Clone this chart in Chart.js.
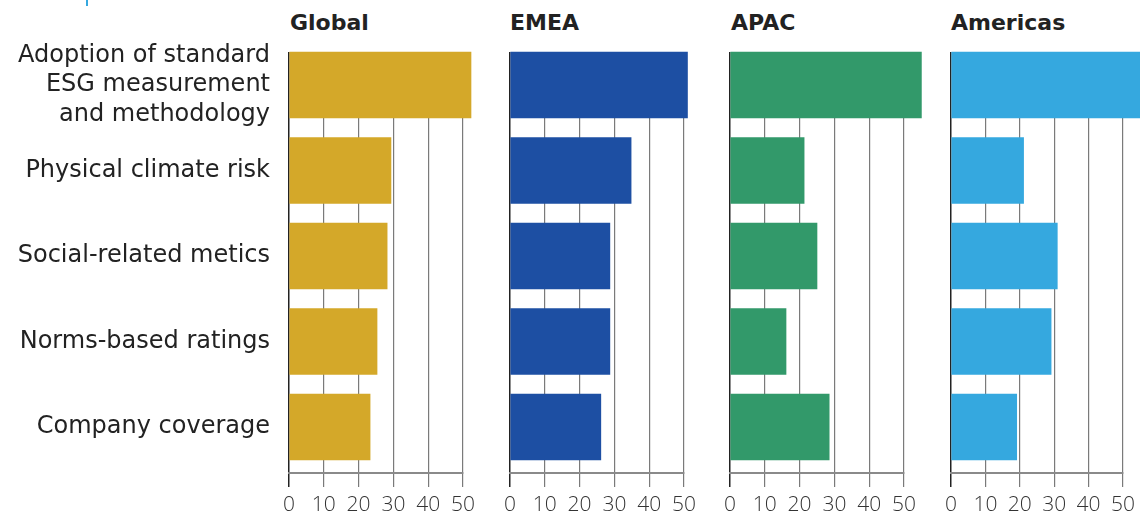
<!DOCTYPE html>
<html>
<head>
<meta charset="utf-8">
<script src="https://cdn.jsdelivr.net/npm/chart.js@4"></script>
<style>
  body { margin: 0; background: #fff; }
  #wrap { position: relative; width: 1140px; height: 514px; overflow: hidden; font-family: "DejaVu Sans", sans-serif; }
  .panel { position: absolute; top: 0; height: 514px; }
  .title { position: absolute; top: 10px; font-size: 22px; font-weight: 700; color: #222; }
  .mark { position: absolute; left: 86px; top: 0; width: 2px; height: 6px; background: #35a8df; }
</style>
</head>
<body>
<div id="wrap">
  <div class="mark"></div>
  <div class="title" style="left:290px">Global</div>
  <div class="title" style="left:510px">EMEA</div>
  <div class="title" style="left:731px">APAC</div>
  <div class="title" style="left:951px">Americas</div>
  <div class="panel" style="left:0;width:485px"><canvas id="c-global"></canvas></div>
  <div class="panel" style="left:499px;width:210px"><canvas id="c-emea"></canvas></div>
  <div class="panel" style="left:719px;width:210px"><canvas id="c-apac"></canvas></div>
  <div class="panel" style="left:940px;width:200px"><canvas id="c-americas"></canvas></div>
</div>
<script>
// Categories (top to bottom)
const categories = [
    ['Adoption of standard', 'ESG measurement', 'and methodology'],
    'Physical climate risk',
    'Social-related metics',
    'Norms-based ratings',
    'Company coverage'
];
const xTicks = [0, 10, 20, 30, 40, 50];

// Values per region, same order as categories
const globalValues = [52.3, 29.3, 28.2, 25.3, 23.3];
const emeaValues = [51.0, 34.8, 28.7, 28.7, 26.1];
const apacValues = [55.0, 21.3, 25.0, 16.1, 28.5];
const americasValues = [56.0, 21.1, 30.9, 29.1, 19.1];

function makePanel(canvas, values, color, showLabels, pad) {
    new Chart(canvas, {
        type: 'bar',
        data: {
            datasets: [{
                data: values.map(function(v, i) { return { x: v, y: i }; }),
                backgroundColor: color,
                barThickness: 66,
                clip: false
            }]
        },
        options: {
            indexAxis: 'y',
            responsive: true,
            maintainAspectRatio: false,
            animation: false,
            layout: { padding: { top: 52, left: pad.left, right: pad.right, bottom: 0 } },
            plugins: { legend: { display: false }, tooltip: { enabled: false } },
            scales: {
                x: {
                    type: 'linear',
                    min: 0,
                    max: 50,
                    afterBuildTicks: function(scale) {
                        scale.ticks = xTicks.map(function(v) { return { value: v }; });
                    },
                    afterFit: function(scale) { scale.height = 41; },
                    grid: {
                        color: function(ctx) { return ctx.tick && ctx.tick.value === 0 ? '#222' : '#7a7a7a'; },
                        lineWidth: function(ctx) { return ctx.tick && ctx.tick.value === 0 ? 1.5 : 1.2; },
                        tickLength: 14
                    },
                    border: { display: true, color: '#8a8a8a', width: 2 },
                    ticks: {
                        autoSkip: false,
                        maxRotation: 0,
                        padding: 5,
                        color: '#333',
                        font: { family: 'Open Sans', size: 21, weight: '300' }
                    }
                },
                y: {
                    type: 'linear',
                    reverse: true,
                    offset: false,
                    min: -0.386,
                    max: 4.538,
                    display: showLabels,
                    afterFit: function(scale) {
                        scale.paddingTop = 0;
                        scale.paddingBottom = 0;
                        if (showLabels) scale.width = 289;
                    },
                    grid: { display: false, offset: false },
                    border: { display: false },
                    ticks: {
                        stepSize: 1,
                        includeBounds: false,
                        autoSkip: false,
                        padding: 11,
                        color: '#222',
                        font: { family: 'DejaVu Sans', size: 24, lineHeight: 1.23 },
                        callback: function(value) {
                            return Number.isInteger(value) ? categories[value] : '';
                        }
                    }
                }
            }
        }
    });
}

makePanel(document.getElementById('c-global'), globalValues, '#d4a829', true, { left: 0, right: 22 });
makePanel(document.getElementById('c-emea'), emeaValues, '#1d4fa3', false, { left: 10, right: 25 });
makePanel(document.getElementById('c-apac'), apacValues, '#32996a', false, { left: 10, right: 25 });
makePanel(document.getElementById('c-americas'), americasValues, '#35a8df', false, { left: 10, right: 15 });
</script>
</body>
</html>
